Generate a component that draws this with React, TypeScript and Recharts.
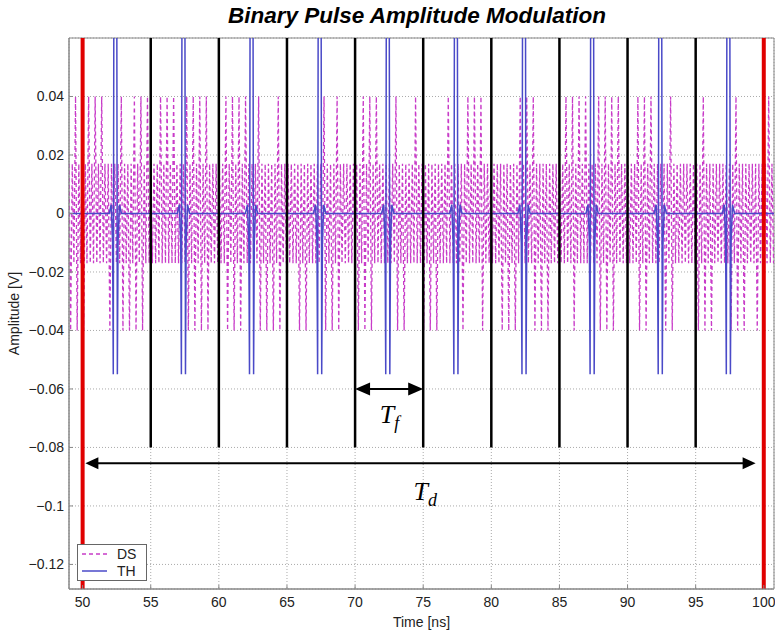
import React from 'react';
import {
  LineChart, Line, XAxis, YAxis, CartesianGrid, ReferenceLine, ReferenceArea, ReferenceDot,
} from 'recharts';

// ---- axes ----
const X_DOMAIN: [number, number] = [49, 100.75];
const Y_DOMAIN: [number, number] = [-0.1284, 0.06];
const X_TICKS = [50, 55, 60, 65, 70, 75, 80, 85, 90, 95, 100];
const Y_TICKS = [-0.12, -0.1, -0.08, -0.06, -0.04, -0.02, 0, 0.02, 0.04];

// ---- DS (dashed) : envelope ----
const DS_START = 49.0;
const DS_END = 100.75;
const DS_HALF_PERIOD = 0.12;
const DS_MID_TOP = 0.017;
const DS_MID_BOTTOM = -0.017;
const DS_HIGH = 0.04;
const DS_LOW = -0.04;
// time spans where the positive swings reach 0.04
const DS_HIGH_SPANS: [number, number][] = [
  [49.05, 49.5], [50.35, 51.4], [52.7, 53.1], [53.6, 54.8], [55.3, 57.1], [57.6, 59.3],
  [59.7, 59.9], [60.3, 62.0], [62.7, 63.2], [64.2, 64.6], [66.3, 66.6], [67.7, 68.1],
  [68.6, 69.0], [70.6, 72.0], [72.9, 73.3], [74.3, 74.6], [76.6, 77.0], [77.9, 79.4],
  [81.7, 83.4], [85.2, 87.3], [87.6, 89.4], [90.7, 92.0], [92.7, 93.3], [95.3, 95.8],
  [97.7, 98.4], [100.2, 100.75],
];
// time spans where the negative swings reach -0.04
const DS_LOW_SPANS: [number, number][] = [
  [49.0, 50.4], [51.7, 52.1], [52.7, 54.8], [57.5, 59.3], [60.3, 62.0], [63.0, 64.9],
  [65.5, 66.8], [67.7, 68.9], [70.2, 71.3], [73.1, 73.9], [75.0, 76.0], [77.5, 78.2],
  [79.2, 79.8], [80.6, 81.9], [82.9, 84.6], [86.0, 86.5], [87.6, 89.0], [90.6, 91.8],
  [92.6, 93.6], [95.2, 96.2], [97.6, 98.6], [99.4, 100.2],
];

// ---- TH (solid) pulses ----
const TH_CENTERS = [52.4, 57.4, 62.4, 67.4, 72.4, 77.4, 82.4, 87.4, 92.4, 97.4];
const TH_PULSE_OFFSETS = [-0.45, -0.3, -0.2, -0.15, 0, 0.15, 0.2, 0.3, 0.45];
const TH_PULSE_VALUES = [0, 0.003, -0.01, -0.055, 0.4, -0.055, -0.01, 0.003, 0];

// ---- markers ----
const RED_LINES = [50, 100];
const BLACK_LINES = [55, 60, 65, 70, 75, 80, 85, 90, 95];
const BLACK_TOP = 0.06;
const BLACK_BOTTOM = -0.08;
const TF_ARROW = { x1: 70, x2: 75, y: -0.06 };
const TD_ARROW = { x1: 50.2, x2: 99.4, y: -0.0854 };
const TF_LABEL = { x: 72.52, y: -0.0717 };
const TD_LABEL = { x: 75.15, y: -0.098 };

const inSpans = (t: number, spans: [number, number][]) =>
  spans.some(([a, b]) => t >= a && t <= b);

const dsData: { x: number; y: number }[] = [];
for (let i = 0; ; i++) {
  const t = Math.round((DS_START + i * DS_HALF_PERIOD) * 1000) / 1000;
  if (t > DS_END) break;
  const k = Math.floor(i / 2);
  let y: number;
  if (i % 2 === 0) {
    y = inSpans(t, DS_HIGH_SPANS) && k % 2 === 0 ? DS_HIGH : DS_MID_TOP;
  } else {
    y = inSpans(t, DS_LOW_SPANS) && k % 2 === 0 ? DS_LOW : DS_MID_BOTTOM;
  }
  dsData.push({ x: t, y });
}

const thData: { x: number; y: number }[] = [{ x: X_DOMAIN[0], y: 0 }];
TH_CENTERS.forEach((c) => {
  TH_PULSE_OFFSETS.forEach((o, j) => {
    thData.push({ x: Math.round((c + o) * 1000) / 1000, y: TH_PULSE_VALUES[j] });
  });
});
thData.push({ x: X_DOMAIN[1], y: 0 });

const FONT = 'Liberation Sans, Arial, Helvetica, sans-serif';
const DS_COLOR = '#c83cc8';
const TH_COLOR = '#4a4ac8';

const fmtY = (v: number) => {
  if (v === 0) return '0';
  return (v < 0 ? '\u2212' : '') + String(Math.round(Math.abs(v) * 1000) / 1000);
};

const makeArrow = (head: number, half: number) => (p: any) => {
  const xa = Math.min(p.x1, p.x2);
  const xb = Math.max(p.x1, p.x2);
  const y = p.y1;
  return (
    <g>
      <line x1={xa + head - 1} y1={y} x2={xb - head + 1} y2={y} stroke="#000" strokeWidth={2} />
      <polygon points={`${xa},${y} ${xa + head},${y - half} ${xa + head},${y + half}`} fill="#000" />
      <polygon points={`${xb},${y} ${xb - head},${y - half} ${xb - head},${y + half}`} fill="#000" />
    </g>
  );
};

const makeLabel = (sub: string) => (p: any) => (
  <text
    x={p.cx}
    y={p.cy}
    textAnchor="middle"
    fontFamily="Liberation Serif, Times New Roman, serif"
    fontStyle="italic"
    fontSize={26}
    fill="#000"
  >
    T<tspan fontSize={18} dy={6}>{sub}</tspan>
  </text>
);

const YLabel = (props: any) => {
  const vb = props.viewBox || { y: 38, height: 551 };
  const cy = vb.y + vb.height / 2;
  return (
    <text
      x={14}
      y={cy}
      transform={`rotate(-90, 14, ${cy})`}
      textAnchor="middle"
      dominantBaseline="central"
      fontFamily={FONT}
      fontSize={14}
      fill="#222"
    >
      Amplitude [V]
    </text>
  );
};

export default function App() {
  return (
    <div style={{ position: 'absolute', left: 0, top: 0, width: 775, height: 631, background: '#fff' }}>
      <div
        style={{
          position: 'absolute', left: 167, top: 5, width: 500, textAlign: 'center',
          fontFamily: FONT, fontWeight: 'bold', fontStyle: 'italic', fontSize: 22.5,
          lineHeight: '22px', color: '#000',
        }}
      >
        Binary Pulse Amplitude Modulation
      </div>
      <LineChart width={775} height={631} margin={{ top: 38, right: 1, bottom: 0, left: 0 }}>
        <CartesianGrid stroke="#aaa" strokeDasharray="1 2" />
        <XAxis
          type="number"
          dataKey="x"
          domain={X_DOMAIN}
          ticks={X_TICKS}
          interval={0}
          allowDataOverflow
          height={42}
          tickSize={-4}
          tickMargin={12}
          stroke="#888"
          tick={{ fill: '#222', fontSize: 14, fontFamily: FONT }}
          label={{ value: 'Time [ns]', position: 'insideBottom', offset: 4, fill: '#222', fontSize: 14, fontFamily: FONT }}
        />
        <YAxis
          type="number"
          domain={Y_DOMAIN}
          ticks={Y_TICKS}
          interval={0}
          allowDataOverflow
          width={69}
          tickSize={-4}
          tickMargin={9}
          stroke="#888"
          tickFormatter={fmtY}
          tick={{ fill: '#222', fontSize: 14, fontFamily: FONT }}
          label={<YLabel />}
        />
        <ReferenceArea
          x1={X_DOMAIN[0]} x2={X_DOMAIN[1]} y1={Y_DOMAIN[0]} y2={Y_DOMAIN[1]}
          fill="none" stroke="#888" strokeWidth={1} fillOpacity={0}
        />
        <Line
          data={dsData}
          dataKey="y"
          type="linear"
          stroke={DS_COLOR}
          strokeWidth={1.3}
          strokeDasharray="4 3"
          dot={false}
          activeDot={false}
          isAnimationActive={false}
          name="DS"
        />
        <Line
          data={thData}
          dataKey="y"
          type="linear"
          stroke={TH_COLOR}
          strokeWidth={1.5}
          dot={false}
          activeDot={false}
          isAnimationActive={false}
          name="TH"
        />
        {BLACK_LINES.map((x) => (
          <ReferenceLine
            key={'b' + x}
            segment={[{ x, y: BLACK_TOP }, { x, y: BLACK_BOTTOM }]}
            stroke="#000"
            strokeWidth={2.5}
          />
        ))}
        {RED_LINES.map((x) => (
          <ReferenceLine key={'r' + x} x={x} stroke="#e00000" strokeWidth={4} />
        ))}
        <ReferenceLine
          segment={[{ x: TF_ARROW.x1, y: TF_ARROW.y }, { x: TF_ARROW.x2, y: TF_ARROW.y }]}
          shape={makeArrow(15, 6.5)}
        />
        <ReferenceLine
          segment={[{ x: TD_ARROW.x1, y: TD_ARROW.y }, { x: TD_ARROW.x2, y: TD_ARROW.y }]}
          shape={makeArrow(13, 6)}
        />
        <ReferenceDot x={TF_LABEL.x} y={TF_LABEL.y} r={0} shape={makeLabel('f')} />
        <ReferenceDot x={TD_LABEL.x} y={TD_LABEL.y} r={0} shape={makeLabel('d')} />
      </LineChart>
      <div
        style={{
          position: 'absolute', left: 77, top: 544, width: 70, height: 37,
          border: '1px solid #666', background: '#fff', boxSizing: 'border-box',
        }}
      >
        <svg width={70} height={37} style={{ position: 'absolute', left: -1, top: -1 }}>
          <line x1={5} y1={10} x2={30} y2={10} stroke={DS_COLOR} strokeWidth={1.3} strokeDasharray="4 3" />
          <text x={40} y={15} fontFamily={FONT} fontSize={14} fill="#222">DS</text>
          <line x1={5} y1={27} x2={30} y2={27} stroke={TH_COLOR} strokeWidth={1.5} />
          <text x={40} y={32} fontFamily={FONT} fontSize={14} fill="#222">TH</text>
        </svg>
      </div>
    </div>
  );
}
